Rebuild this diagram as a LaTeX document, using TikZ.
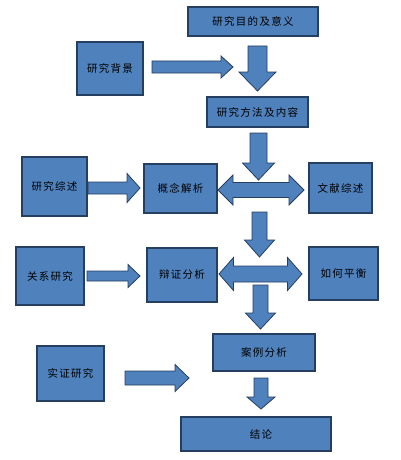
\documentclass[tikz,border=0pt]{standalone}
\usepackage{fontspec}
\setmainfont{Noto Sans CJK SC}[LetterSpace=12]
\definecolor{boxfill}{HTML}{4F81BD}
\definecolor{boxline}{HTML}{243F60}
\tikzset{
  box/.style={draw=boxline, line width=1.6pt, fill=boxfill, inner sep=0pt, outer sep=0pt, font=\fontsize{10.5}{12}\selectfont},
  blockarrow/.style={draw=boxline, line width=0.8pt, fill=boxfill, line join=miter}
}
% right arrow: x1,x2,yc,shaft half,head half,head length
\newcommand{\rarrow}[6]{\draw[blockarrow] (#1,#3-#4)--(#2-#6,#3-#4)--(#2-#6,#3-#5)--(#2,#3)--(#2-#6,#3+#5)--(#2-#6,#3+#4)--(#1,#3+#4)--cycle;}
% down arrow: xc,y1,y2,shaft half,head half,head length
\newcommand{\darrow}[6]{\draw[blockarrow] (#1-#4,#2)--(#1-#4,#3-#6)--(#1-#5,#3-#6)--(#1,#3)--(#1+#5,#3-#6)--(#1+#4,#3-#6)--(#1+#4,#2)--cycle;}
% double arrow: x1,x2,yc,shaft half,head half,head length
\newcommand{\dblarrow}[6]{\draw[blockarrow] (#1,#3)--(#1+#6,#3-#5)--(#1+#6,#3-#4)--(#2-#6,#3-#4)--(#2-#6,#3-#5)--(#2,#3)--(#2-#6,#3+#5)--(#2-#6,#3+#4)--(#1+#6,#3+#4)--(#1+#6,#3+#5)--cycle;}
\begin{document}
\begin{tikzpicture}[x=1pt,y=-1pt]
\useasboundingbox (0,0) rectangle (400,460);
% boxes
\node[box, minimum width=130pt, minimum height=29pt] (aim) at (253,21.5) {研究目的及意义};
\node[box, minimum width=66pt, minimum height=53pt] (bg) at (110,68.5) {研究背景};
\node[box, minimum width=101pt, minimum height=30pt] (meth) at (257.5,112) {研究方法及内容};
\node[box, minimum width=65pt, minimum height=59pt] (rev) at (54.5,186.5) {研究综述};
\node[box, minimum width=73pt, minimum height=49pt] (concept) at (180.5,188.5) {概念解析};
\node[box, minimum width=63pt, minimum height=50pt] (lit) at (340.5,188) {文献综述};
\node[box, minimum width=68pt, minimum height=58pt] (rel) at (50,276) {关系研究};
\node[box, minimum width=70pt, minimum height=54pt] (dial) at (182,275) {辩证分析};
\node[box, minimum width=69pt, minimum height=53pt] (bal) at (343.5,273.5) {如何平衡};
\node[box, minimum width=102pt, minimum height=37pt] (case) at (264,352.5) {案例分析};
\node[box, minimum width=67pt, minimum height=55pt] (emp) at (70.5,373.5) {实证研究};
\node[box, minimum width=150pt, minimum height=34pt] (concl) at (256,434) {\hspace{10pt}结论};
% arrows
\rarrow{152}{233}{67}{6}{11}{12}
\darrow{257.5}{46}{91}{9.5}{18.5}{19}
\darrow{258.5}{133}{180}{8.5}{16}{17}
\rarrow{88}{140}{188}{6}{14.5}{13}
\dblarrow{218}{304}{190}{7.5}{15}{15}
\darrow{259.5}{212}{257}{7.5}{15}{17}
\rarrow{87}{140}{276}{5}{11.5}{12}
\dblarrow{219}{302}{274}{8}{16.5}{14.5}
\darrow{260.5}{285}{329}{7.5}{15}{16}
\rarrow{125}{189}{378}{7}{13.5}{14}
\darrow{261}{378}{409}{7}{14}{12}
\end{tikzpicture}
\end{document}
